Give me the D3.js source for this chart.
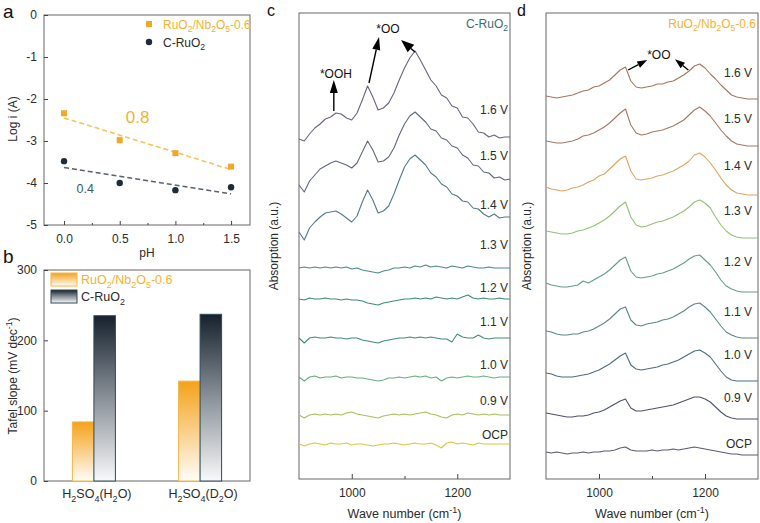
<!DOCTYPE html>
<html><head><meta charset="utf-8">
<script src="https://cdn.jsdelivr.net/npm/d3@7"></script>
<style>
body{margin:0;background:#fff}
svg{display:block}
text{font-family:"Liberation Sans",Arial,Helvetica,sans-serif}
</style>
</head><body>
<svg id="fig" width="760" height="523"></svg>
<script>
// ---------------- DATA ----------------
// panel a : log i vs pH
const phValues = [0, 0.5, 1.0, 1.5];
const logiRuNb = [-2.34, -2.98, -3.29, -3.61];
const logiCRu  = [-3.48, -4.00, -4.17, -4.10];
const fitPh    = [0, 1.5];
const fitRuNb  = [-2.45, -3.68];
const fitCRu   = [-3.63, -4.26];
const slopeRuNb = "0.8";
const slopeCRu  = "0.4";
const phTicks   = [0, 0.5, 1.0, 1.5];
const logiTicks = [-5, -4, -3, -2, -1, 0];

// panel b : Tafel slopes
const tafelCats = ["H_2SO_4(H_2O)", "H_2SO_4(D_2O)"];
const tafelRuNb = [84, 142];
const tafelCRu  = [235, 237];
const tafelTicks = [0, 100, 200, 300];

// panels c, d : in-situ spectra (absorption, a.u., stacked)
const potentials = ["1.6 V", "1.5 V", "1.4 V", "1.3 V", "1.2 V", "1.1 V", "1.0 V", "0.9 V", "OCP"];
const waveTicks = [1000, 1200];
const waveNumbers = [900,910,920,930,940,950,960,970,980,990,
  1000,1010,1020,1030,1040,1050,1060,1070,1080,1090,
  1100,1110,1120,1130,1140,1150,1160,1170,1180,1190,
  1200,1210,1220,1230,1240,1250,1260,1270,1280,1290,1300];

const specC_16 = [340,338,345,351,355,360,362,366,365,361, 359,366,379,393,382,369,371,376,386,399, 411,421,428,419,409,399,393,384,381,373, 371,362,361,355,347,346,342,344,341,342, 342];
const specC_15 = [294,287,298,304,310,313,316,318,316,314, 311,316,327,338,329,317,318,322,331,344, 355,363,367,362,357,350,348,341,339,333, 331,324,321,314,313,307,306,301,302,299, 300];
const specC_14 = [247,239,251,257,262,266,267,268,265,261, 257,263,277,289,279,266,268,273,285,299, 312,320,324,319,314,306,302,295,292,285, 283,278,277,271,270,265,262,265,261,262, 262];
const specC_13 = [211,212,211,212,211,212,211,212,211,212, 210,211,209,208,207,206,208,209,211,211, 212,211,213,212,214,212,213,212,211,213, 212,211,213,212,211,211,212,211,211,211, 211];
const specC_12 = [180,179,181,180,180,181,180,180,179,180, 179,179,178,176,175,174,176,177,178,179, 180,180,181,180,181,180,182,181,180,181, 180,182,184,181,180,181,180,180,181,180, 180];
const specC_11 = [141,136,141,142,141,141,142,141,141,140, 141,141,139,138,137,136,138,139,140,141, 141,142,141,142,141,142,141,140,140,137, 145,142,141,141,144,141,140,141,141,141, 141];
const specC_10 = [102,98,102,103,101,102,102,103,101,102, 102,101,101,100,99,98,99,101,101,102, 101,102,103,102,103,101,102,98,101,102, 101,102,103,102,102,103,102,101,102,102, 102];
const specC_09 = [64,61,64,65,64,65,64,65,64,66, 67,65,64,63,62,61,63,64,65,64, 65,64,65,66,67,65,64,62,61,64, 65,64,66,65,64,65,64,65,64,64, 64];
const specC_OCP = [35,33,35,36,35,34,36,35,35,36, 34,35,35,34,33,34,35,35,36,35, 34,35,36,35,35,36,34,31,36,37, 35,36,35,34,36,35,35,35,35,35, 35];

const specD_16 = [383,382,381,382,383,384,386,388,389,392, 393,396,399,404,409,412,398,392,391,392, 393,395,395,397,398,401,404,408,413,415, 411,405,400,394,389,384,382,381,380,380, 380];
const specD_15 = [338,337,336,336,337,338,340,343,344,346, 349,352,356,361,366,370,354,346,344,345, 347,348,349,351,353,356,359,364,369,372, 368,363,356,349,343,338,335,334,333,333, 333];
const specD_14 = [292,290,289,288,289,291,292,294,297,299, 303,305,310,315,320,323,308,300,299,300, 301,303,304,306,308,311,314,318,324,326, 322,316,309,301,294,289,286,285,284,284, 284];
const specD_13 = [248,247,246,245,245,246,248,249,251,253, 256,259,263,268,273,277,262,254,252,253, 255,257,258,260,262,265,268,272,277,279, 276,271,262,254,248,244,242,241,241,241, 241];
const specD_12 = [196,194,193,192,192,193,194,198,196,199, 202,205,209,214,219,222,208,202,201,202, 203,205,206,208,210,213,216,220,223,224, 219,214,207,199,193,190,188,187,187,187, 187];
const specD_11 = [148,147,145,144,144,145,145,147,148,150, 153,156,160,165,170,172,159,154,153,155, 156,157,159,160,162,165,168,172,175,176, 172,167,160,153,147,144,142,141,141,141, 141];
const specD_10 = [106,105,103,102,102,102,103,104,105,107, 109,112,115,119,123,126,114,110,109,110, 111,112,114,115,117,119,122,125,128,129, 126,122,115,108,102,99,98,98,98,98, 98];
const specD_09 = [66,65,64,63,62,62,63,63,64,66, 67,69,72,75,78,80,71,68,68,69, 70,71,72,73,74,76,78,80,82,82, 80,77,72,67,63,61,60,60,60,60, 60];
const specD_OCP = [27,26,27,26,25,26,26,27,26,27, 27,28,28,29,31,32,29,28,28,28, 29,28,29,29,30,29,30,31,32,31, 30,29,28,27,26,25,25,24,24,24, 24];

const specC = [specC_16, specC_15, specC_14, specC_13, specC_12, specC_11, specC_10, specC_09, specC_OCP];
const specD = [specD_16, specD_15, specD_14, specD_13, specD_12, specD_11, specD_10, specD_09, specD_OCP];

// ---------------- STYLE / LAYOUT ----------------
const ORANGE = "#f5a623", ORANGE_TXT = "#f6b22e", ORANGE_FIT = "#f7c45c";
const NAVY = "#1e2b38", NAVY_FIT = "#59626e";
const FRAME = "#666", INK = "#2b2b2b";
const colorsC = ["#6e6080","#5f6882","#527a8a","#4e8a86","#3f8a78","#3f8f74","#6aae7e","#a8bf5a","#ddc63c"];
const colorsD = ["#a8755c","#a87862","#e2a45e","#92c272","#5f9e8e","#5a8888","#4f6e80","#4e5272","#5e5878"];
const labelLiftC = [27,23,12,23,11,16,12,14,9];
const labelLiftD = [26,27,29,27,30,26,26,21,11];

const svg = d3.select("#fig");

function rich(t, str) {
  const fs = parseFloat(t.attr("font-size"));
  const toks = str.match(/_\{[^}]*\}|\^\{[^}]*\}|_[^_^]|\^[^_^]|[^_^]+/g);
  let shift = 0;
  for (const tok of toks) {
    let s = 0, tx = tok;
    if (tok[0] === "_" || tok[0] === "^") {
      s = tok[0] === "_" ? 0.28 * fs : -0.38 * fs;
      tx = tok.slice(1).replace(/[{}]/g, "");
    }
    const ts = t.append("tspan").attr("dy", (s - shift).toFixed(2)).text(tx);
    if (s !== 0) ts.attr("font-size", (fs * 0.72).toFixed(1));
    shift = s;
  }
  return t;
}
function label(g, x, y, str, o = {}) {
  const t = g.append("text").attr("x", x).attr("y", y)
    .attr("font-size", o.size || 12).attr("fill", o.fill || INK)
    .attr("text-anchor", o.anchor || "start");
  if (o.weight) t.attr("font-weight", o.weight);
  if (o.rotate) t.attr("transform", `rotate(${o.rotate},${x},${y})`);
  return rich(t, str);
}
function arrow(g, x1, y1, x2, y2, len, w) {
  const dx = x2 - x1, dy = y2 - y1, L = Math.hypot(dx, dy), ux = dx / L, uy = dy / L;
  const bx = x2 - ux * len, by = y2 - uy * len;
  g.append("line").attr("x1", x1).attr("y1", y1).attr("x2", bx).attr("y2", by)
    .attr("stroke", "#000").attr("stroke-width", 1.4);
  g.append("path").attr("d", `M${x2},${y2}L${bx - uy * w / 2},${by + ux * w / 2}L${bx + uy * w / 2},${by - ux * w / 2}Z`)
    .attr("fill", "#000");
}
function styleAxis(g, size) {
  g.select(".domain").remove();
  g.selectAll(".tick line").attr("stroke", "#444");
  g.selectAll(".tick text").attr("font-size", size || 12).attr("fill", INK)
    .attr("font-family", '"Liberation Sans",Arial,sans-serif');
}
function frame(g, b) {
  g.append("rect").attr("x", b.x0).attr("y", b.y0).attr("width", b.x1 - b.x0).attr("height", b.y1 - b.y0)
    .attr("fill", "none").attr("stroke", FRAME).attr("stroke-width", 1);
}

// gradients
const defs = svg.append("defs");
function grad(id, stops) {
  const lg = defs.append("linearGradient").attr("id", id).attr("x1", 0).attr("y1", 0).attr("x2", 0).attr("y2", 1);
  stops.forEach(([o, c]) => lg.append("stop").attr("offset", o).attr("stop-color", c));
}
grad("gO", [[0, "#f5a21a"], [0.5, "#f9cf8a"], [1, "#fffdf9"]]);
grad("gN", [[0, "#16212d"], [0.5, "#8a9199"], [1, "#f8f9fa"]]);

// ---------------- PANEL A ----------------
{
  const B = {x0: 44, x1: 250, y0: 15, y1: 225};
  const g = svg.append("g");
  const x = d3.scaleLinear().domain([-0.18, 1.67]).range([B.x0, B.x1]);
  const y = d3.scaleLinear().domain([-5, 0]).range([B.y1, B.y0]);
  frame(g, B);
  g.append("g").attr("transform", `translate(0,${B.y1})`)
    .call(d3.axisBottom(x).tickValues(phTicks).tickFormat(d3.format(".1f")).tickSize(-4).tickPadding(9))
    .call(a => styleAxis(a));
  g.append("g").attr("transform", `translate(0,${B.y1})`)
    .call(d3.axisBottom(x).tickValues([0.25, 0.75, 1.25]).tickFormat("").tickSize(-2))
    .call(a => styleAxis(a));
  g.append("g").attr("transform", `translate(${B.x0},0)`)
    .call(d3.axisLeft(y).tickValues(logiTicks).tickFormat(d => String(d)).tickSize(-4).tickPadding(7))
    .call(a => styleAxis(a));

  const line = d3.line().x((d, i) => x(fitPh[i])).y(d => y(d));
  g.append("path").attr("d", line(fitRuNb)).attr("fill", "none").attr("stroke", ORANGE_FIT)
    .attr("stroke-width", 1.6).attr("stroke-dasharray", "5,3");
  g.append("path").attr("d", line(fitCRu)).attr("fill", "none").attr("stroke", NAVY_FIT)
    .attr("stroke-width", 1.6).attr("stroke-dasharray", "5,3");

  g.selectAll(".sq").data(logiRuNb).join("rect")
    .attr("x", (d, i) => x(phValues[i]) - 3).attr("y", d => y(d) - 3)
    .attr("width", 6).attr("height", 6).attr("fill", ORANGE);
  g.selectAll(".ci").data(logiCRu).join("circle")
    .attr("cx", (d, i) => x(phValues[i])).attr("cy", d => y(d)).attr("r", 3.2).attr("fill", NAVY);

  label(g, x(0.66), y(-2.43) + 6, slopeRuNb, {size: 17, fill: ORANGE_TXT, anchor: "middle"});
  label(g, x(0.19), y(-4.14) + 4.5, slopeCRu, {size: 12.5, fill: "#3c5a6b", anchor: "middle"});

  // legend
  g.append("rect").attr("x", 146).attr("y", 21).attr("width", 6).attr("height", 6).attr("fill", ORANGE);
  label(g, 163, 28.5, "RuO_2/Nb_2O_5-0.6", {size: 12, fill: ORANGE_TXT});
  g.append("circle").attr("cx", 149).attr("cy", 42).attr("r", 3.2).attr("fill", NAVY);
  label(g, 163, 47, "C-RuO_2", {size: 12, fill: INK});

  label(g, 147, 257, "pH", {size: 12, anchor: "middle"});
  label(g, 17, 119, "Log i (A)", {size: 12, anchor: "middle", rotate: -90});
  label(svg, 3, 18, "a", {size: 19, fill: "#111"});
}

// ---------------- PANEL B ----------------
{
  const B = {x0: 44, x1: 250, y0: 270, y1: 481};
  const g = svg.append("g");
  const x = d3.scalePoint().domain(tafelCats).range([B.x0, B.x1]).padding(0.47);
  const xs = d3.scaleBand().domain(["RuNb", "CRu"]).range([-21.5, 21.5]);
  const y = d3.scaleLinear().domain([0, 300]).range([B.y1, B.y0]);
  frame(g, B);
  g.append("g").attr("transform", `translate(${B.x0},0)`)
    .call(d3.axisLeft(y).tickValues(tafelTicks).tickSize(-4).tickPadding(7))
    .call(a => styleAxis(a));

  const series = [
    {key: "RuNb", vals: tafelRuNb, fill: "url(#gO)", stroke: "#f5b644"},
    {key: "CRu", vals: tafelCRu, fill: "url(#gN)", stroke: "#2f4a58"}
  ];
  series.forEach(s => {
    g.selectAll(null).data(s.vals).join("rect")
      .attr("x", (d, i) => x(tafelCats[i]) + xs(s.key))
      .attr("y", d => y(d))
      .attr("width", xs.bandwidth())
      .attr("height", d => y(0) - y(d))
      .attr("fill", s.fill).attr("stroke", s.stroke).attr("stroke-width", 1);
  });
  tafelCats.forEach(c => label(g, x(c) + 3, 498, c, {size: 12.5, anchor: "middle"}));

  g.append("rect").attr("x", 51).attr("y", 273).attr("width", 26).attr("height", 13)
    .attr("fill", "url(#gO)").attr("stroke", "#f5b644");
  label(g, 81, 284, "RuO_2/Nb_2O_5-0.6", {size: 12.5, fill: ORANGE_TXT});
  g.append("rect").attr("x", 51).attr("y", 290).attr("width", 26).attr("height", 13)
    .attr("fill", "url(#gN)").attr("stroke", "#2f4a58");
  label(g, 81, 301, "C-RuO_2", {size: 12.5, fill: INK});

  label(g, 17, 376, "Tafel slope (mV dec^{-1})", {size: 12, anchor: "middle", rotate: -90});
  label(svg, 3, 263, "b", {size: 19, fill: "#111"});
}

// ---------------- PANELS C, D ----------------
function spectraPanel(B, specs, colors, lifts, labelX, tag, tagColor, letter, letterX, ylabX) {
  const g = svg.append("g");
  const x = d3.scaleLinear().domain([900, 1300]).range([B.x0, B.x1]);
  const y = d3.scaleLinear().domain([0, 466]).range([B.y1, B.y0]);
  frame(g, B);
  g.append("g").attr("transform", `translate(0,${B.y1})`)
    .call(d3.axisBottom(x).tickValues(waveTicks).tickFormat(d3.format("d")).tickSize(-5).tickPadding(9.5))
    .call(a => styleAxis(a));
  g.append("g").attr("transform", `translate(0,${B.y1})`)
    .call(d3.axisBottom(x).tickValues([1100]).tickFormat("").tickSize(-3))
    .call(a => styleAxis(a));
  const line = d3.line().x((d, i) => x(waveNumbers[i])).y(d => y(d));
  specs.forEach((s, k) => {
    g.append("path").attr("d", line(s)).attr("fill", "none")
      .attr("stroke", colors[k]).attr("stroke-width", 1.1).attr("stroke-linejoin", "round");
    label(g, labelX, y(s[s.length - 1]) - lifts[k] + 4.3, potentials[k], {size: 12, anchor: "end"});
  });
  label(g, B.x1 - 2, B.y0 + 15, tag, {size: 12, fill: tagColor, anchor: "end"});
  label(g, (B.x0 + B.x1) / 2, 518, "Wave number (cm^{-1})", {size: 12.5, anchor: "middle"});
  label(g, ylabX, 246, "Absorption (a.u.)", {size: 12, anchor: "middle", rotate: -90});
  label(svg, letterX, 16, letter, {size: 16, fill: "#111"});
  return {g, x, y};
}

{
  const P = spectraPanel({x0: 299, x1: 510, y0: 13, y1: 479}, specC, colorsC, labelLiftC, 508,
    "C-RuO_2", "#3d6b7b", "c", 267, 278);
  const {g, x, y} = P;
  label(g, x(970), y(401), "*OOH", {size: 12, anchor: "middle", fill: "#111"});
  arrow(g, x(966), y(368), x(966), y(399), 13, 8);
  label(g, x(1068.7), y(446), "*OO", {size: 12, anchor: "middle", fill: "#111"});
  arrow(g, x(1032.7), y(396), x(1051.7), y(442), 13, 8);
  arrow(g, x(1120), y(427), x(1093.5), y(439), 13, 10);
}
{
  const P = spectraPanel({x0: 546, x1: 758, y0: 13, y1: 479}, specD, colorsD, labelLiftD, 752,
    "RuO_2/Nb_2O_5-0.6", ORANGE_TXT, "d", 517, 531);
  const {g, x, y} = P;
  label(g, x(1113), y(420), "*OO", {size: 12, anchor: "middle", fill: "#111"});
  arrow(g, x(1055), y(409), x(1091), y(419), 10, 7);
  arrow(g, x(1168.5), y(409), x(1143.4), y(419.7), 10, 7);
}
</script>
</body></html>
